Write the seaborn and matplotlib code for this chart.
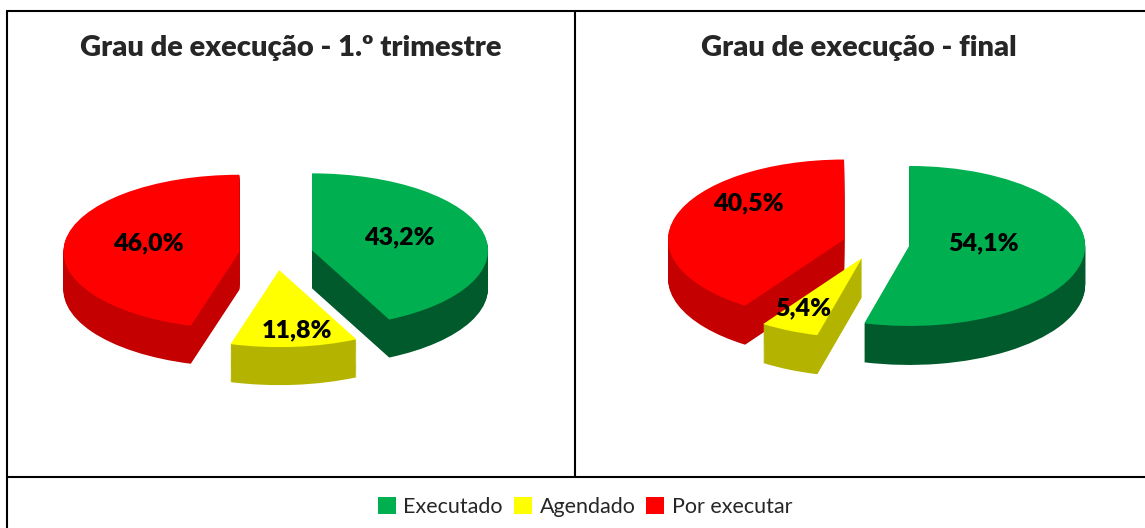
import numpy as np
import matplotlib
matplotlib.use("Agg")
import matplotlib.pyplot as plt
from matplotlib.lines import Line2D
from matplotlib.patches import Patch
import seaborn as sns

# ---------- Data ---------- #

categories = ["Executado", "Agendado", "Por executar"]
values_trimestre = [43.2, 11.8, 46.0]
values_final = [54.1, 5.4, 40.5]
titles = ["Grau de execução - 1.º trimestre", "Grau de execução - final"]

# ---------- Style ---------- #

sns.set_theme(style="white")
plt.rcParams['font.family'] = ['Lato', 'DejaVu Sans']

top_colors = ["#00B050", "#FFFF00", "#FF0000"]
side_colors = ["#005A2B", "#B4B400", "#C40000"]

W, H = 1145, 528
fig = plt.figure(figsize=(W / 100, H / 100), dpi=100)

# pixel layout of each panel: left, right, pie centre x/y, radius, half height, depth, explode
panels = [
    dict(left=7, right=575, cx=276, cy=254, R=176, b=77, depth=38, explode=0.21,
         label_r=[0.73, 1.0, 0.74], label_shift=[4, 2, -3]),
    dict(left=575, right=1145, cx=876, cy=244, R=176, b=80, depth=39, explode=0.19,
         label_r=[0.61, 0.9, 0.89], label_shift=[8, -3, -18]),
]
title_x = [291, 859]
top_px, bottom_px = 11, 477


def draw_pie(ax, values, p):
    explode = [p['explode']] * len(values)
    depth = p['depth'] / p['b']
    n_layers = 40
    # side of the 3d pie: stacked copies going down
    for k in range(n_layers, 0, -1):
        ax.pie(values, colors=side_colors, explode=explode, startangle=90,
               counterclock=False, center=(0, -depth * k / n_layers),
               wedgeprops=dict(linewidth=0, antialiased=True))
    ax.pie(values, colors=top_colors, explode=explode, startangle=90,
           counterclock=False, wedgeprops=dict(linewidth=0))

    # labels in the middle of each slice
    total = sum(values)
    start = 0
    for i, v in enumerate(values):
        mid = start + v / total * 360 / 2
        start += v / total * 360
        ang = np.deg2rad(90 - mid + p['label_shift'][i])
        r = p['label_r'][i]
        ax.text(r * np.cos(ang), r * np.sin(ang), f"{v:.1f}%".replace(".", ","),
                ha="center", va="center", fontsize=18, fontweight="heavy", color="black")

    ax.set_aspect("auto")
    ax.set_xlim((p['left'] - p['cx']) / p['R'], (p['right'] - p['cx']) / p['R'])
    ax.set_ylim(-(bottom_px - p['cy']) / p['b'], (p['cy'] - top_px) / p['b'])
    ax.axis("off")


for values, title, p, tx in zip([values_trimestre, values_final], titles, panels, title_x):
    ax = fig.add_axes([p['left'] / W, 1 - bottom_px / H,
                       (p['right'] - p['left']) / W, (bottom_px - top_px) / H])
    draw_pie(ax, values, p)
    fig.text(tx / W, 1 - 48 / H, title, ha="center", va="center",
             fontsize=21, fontweight="heavy")

# ---------- Frame lines ---------- #

lw = 1.5
fig.add_artist(Line2D([7 / W, 1], [1 - top_px / H] * 2, color="black", lw=lw))
fig.add_artist(Line2D([7 / W, 1], [1 - bottom_px / H] * 2, color="black", lw=lw))
fig.add_artist(Line2D([7 / W] * 2, [0, 1 - top_px / H], color="black", lw=lw))
fig.add_artist(Line2D([575 / W] * 2, [1 - bottom_px / H, 1 - top_px / H], color="black", lw=lw))

# ---------- Legend ---------- #

handles = [Patch(facecolor=c, edgecolor="none") for c in top_colors]
fig.legend(handles, categories, loc="center", bbox_to_anchor=(585 / W, 1 - 507 / H),
           ncol=3, frameon=False, fontsize=15.5, handlelength=0.85, handleheight=0.85,
           handletextpad=0.35, columnspacing=0.5)

fig.savefig("out.png", dpi=100)
plt.close()
